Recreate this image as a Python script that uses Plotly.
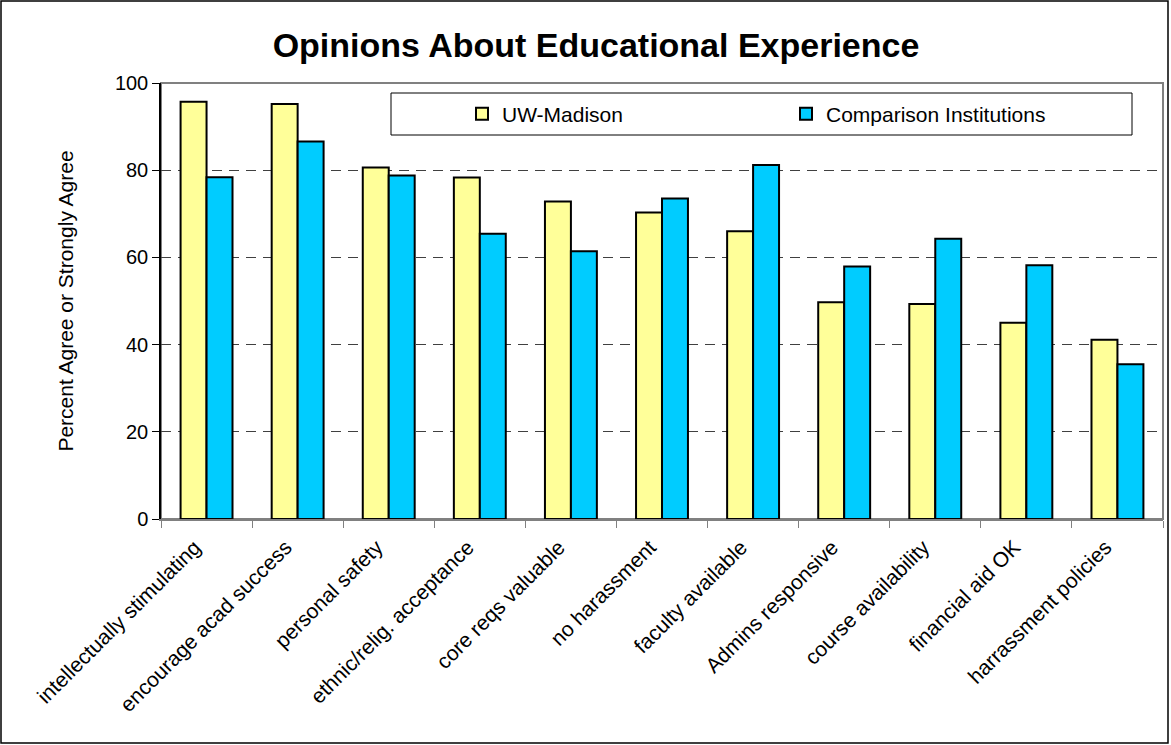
import plotly.graph_objects as go

categories = ["intellectually stimulating", "encourage acad success", "personal safety",
              "ethnic/relig. acceptance", "core reqs valuable", "no harassment",
              "faculty available", "Admins responsive", "course availability",
              "financial aid OK", "harrassment policies"]
uw_madison = [95.7, 95.2, 80.6, 78.3, 72.8, 70.3, 66.0, 49.7, 49.3, 45.0, 41.1]
comparison = [78.4, 86.6, 78.8, 65.4, 61.4, 73.5, 81.2, 57.9, 64.3, 58.2, 35.5]
y_ticks = [0, 20, 40, 60, 80, 100]

L, R, T, B = 161, 8, 83, 226
W, H = 1171, 745
pw = W - L - R
ph = H - T - B


def px(x):
    return (x - L) / pw


def py(y):
    return (H - B - y) / ph


fig = go.Figure()
fig.add_trace(go.Bar(x=categories, y=uw_madison, name="UW-Madison", legend="legend",
                     marker=dict(color="#FFFF99", line=dict(color="black", width=2))))
fig.add_trace(go.Bar(x=categories, y=comparison, name="Comparison Institutions", legend="legend2",
                     marker=dict(color="#00CCFF", line=dict(color="black", width=2))))

shapes = [
    # outer chart border
    dict(type="rect", xref="paper", yref="paper", x0=px(1), x1=px(1168), y0=py(743), y1=py(1),
         line=dict(color="black", width=1.5), fillcolor="rgba(0,0,0,0)", layer="below"),
    # plot area border
    dict(type="rect", xref="paper", yref="paper", x0=0, x1=1, y0=0, y1=1,
         line=dict(color="#808080", width=2), fillcolor="rgba(0,0,0,0)", layer="below"),
    # legend box
    dict(type="rect", xref="paper", yref="paper", x0=px(391), x1=px(1132), y0=py(135), y1=py(93),
         line=dict(color="black", width=1), fillcolor="white", layer="above"),
]

leg_common = dict(orientation="h", yanchor="middle", xanchor="left",
                  bgcolor="rgba(0,0,0,0)", borderwidth=0, font=dict(size=21),
                  itemwidth=30, tracegroupgap=0)

fig.update_layout(
    width=W, height=H,
    margin=dict(l=L, r=R, t=T, b=B, autoexpand=False),
    paper_bgcolor="white", plot_bgcolor="white",
    font=dict(family="Arial, Liberation Sans, sans-serif", color="black"),
    title=dict(text="<b>Opinions About Educational Experience</b>", x=596 / W, xref="container",
               xanchor="center", y=1 - 45 / H, yanchor="middle", yref="container",
               font=dict(size=34, color="black")),
    barmode="group", bargap=0.43, bargroupgap=0.0,
    showlegend=True,
    legend=dict(x=px(462), y=py(114), **leg_common),
    legend2=dict(x=px(786), y=py(114), **leg_common),
    shapes=shapes,
    xaxis=dict(showline=True, linecolor="#808080", linewidth=1.5, ticks="outside", tickson="boundaries",
               ticklen=7, tickcolor="#808080", tickangle=-45, tickfont=dict(size=21),
               ticklabelshift=-12, ticklabelstandoff=6,
               showgrid=False, fixedrange=True, automargin=False),
    yaxis=dict(range=[0, 100], tickvals=y_ticks, showline=True, linecolor="black", linewidth=1.5,
               ticks="outside", ticklen=7, tickcolor="black", tickfont=dict(size=20),
               showgrid=True, gridcolor="#404040", griddash="10px,7px", gridwidth=1,
               zeroline=False, automargin=False,
               title=dict(text="Percent Agree or Strongly Agree", font=dict(size=21), standoff=36)),
)

fig.write_html("out.html")
